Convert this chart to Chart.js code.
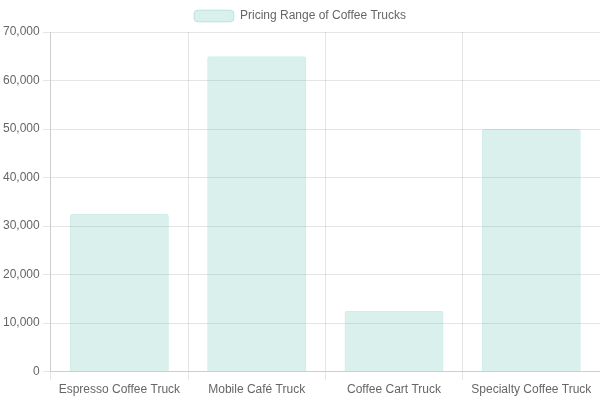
<!DOCTYPE html>
<html>
<head>
<meta charset="utf-8">
<script src="https://cdn.jsdelivr.net/npm/chart.js@4"></script>
<style>
    html, body { margin: 0; padding: 0; background: #fff; }
    #wrap { width: 600px; height: 400px; }
</style>
</head>
<body>
<div id="wrap"><canvas id="pricingChart"></canvas></div>
<script>
const truckTypes = ['Espresso Coffee Truck', 'Mobile Café Truck', 'Coffee Cart Truck', 'Specialty Coffee Truck'];
const priceValues = [32500, 65000, 12500, 50000];

// Build the chart once the page is ready
document.addEventListener('DOMContentLoaded', function() {
    Chart.defaults.font.family = '"Liberation Sans", Arial, sans-serif';
    const ctx = document.getElementById('pricingChart').getContext('2d');
    new Chart(ctx, {
        type: 'bar',
        data: {
            labels: truckTypes,
            datasets: [{
                label: 'Pricing Range of Coffee Trucks',
                data: priceValues,
                backgroundColor: 'rgba(68, 182, 162, 0.2)',
                borderColor: 'rgba(68, 182, 162, 0.25)',
                borderWidth: 1,
                borderRadius: 2
            }]
        },
        options: {
            responsive: true,
            maintainAspectRatio: false,
            animation: false,
            plugins: {
                legend: {
                    labels: { useBorderRadius: true, borderRadius: 4 }
                }
            },
            scales: {
                y: {
                    beginAtZero: true,
                    max: 70000,
                    ticks: { stepSize: 10000 }
                }
            }
        }
    });
});
</script>
</body>
</html>
